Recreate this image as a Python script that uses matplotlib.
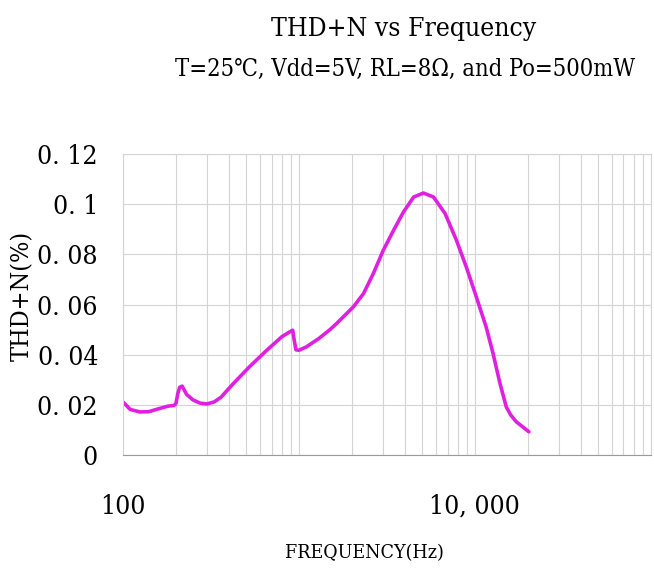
import matplotlib.pyplot as plt
from matplotlib.ticker import FixedLocator, LogLocator, NullFormatter

# THD+N curve
freq_hz = [100, 110, 125, 140, 160, 180, 195, 200, 205, 210,
           217, 230, 250, 275, 300, 330, 360, 420, 520, 650,
           800, 880, 922, 940, 962, 1000, 1100, 1300, 1500, 1640,
           2040, 2330, 2650, 3020, 3450, 3930, 4490, 5110, 5830, 6780,
           7860, 8950, 10200, 11600, 12700, 13900, 15100, 16000, 17200, 20300]
thd_pct = [0.0212, 0.0182, 0.0172, 0.0173, 0.0185, 0.0195, 0.0198, 0.0205, 0.0245, 0.0270,
           0.0275, 0.0242, 0.0220, 0.0207, 0.0204, 0.0212, 0.0230, 0.0282, 0.0350, 0.0415,
           0.0472, 0.0490, 0.0498, 0.0460, 0.0420, 0.0418, 0.0431, 0.0465, 0.0500, 0.0525,
           0.0591, 0.0644, 0.0724, 0.0817, 0.0896, 0.0969, 0.1029, 0.1045, 0.1029, 0.0963,
           0.0857, 0.0750, 0.0631, 0.0511, 0.0405, 0.0286, 0.0192, 0.0160, 0.0133, 0.0093]

y_ticks = [0, 0.02, 0.04, 0.06, 0.08, 0.1, 0.12]
y_labels = ["0", "0. 02", "0. 04", "0. 06", "0. 08", "0. 1", "0. 12"]
x_ticks = [100, 10000]
x_labels = ["100", "10, 000"]

FONT = ["DejaVu Serif", "Liberation Serif", "Noto Sans CJK SC"]
plt.rcParams["font.family"] = FONT
plt.rcParams["font.stretch"] = "condensed"

fig = plt.figure(figsize=(6.54, 5.71), dpi=100)
ax = fig.add_axes([0.188, 0.203, 0.807, 0.527])

ax.plot(freq_hz, thd_pct, color="#e020e0", linewidth=2.6, solid_capstyle="round")

ax.set_xscale("log")
ax.set_xlim(100, 100000)
ax.set_ylim(0, 0.12)
ax.xaxis.set_major_locator(FixedLocator(x_ticks))
ax.xaxis.set_minor_locator(LogLocator(base=10, subs=range(1, 10), numticks=20))
ax.xaxis.set_minor_formatter(NullFormatter())
ax.set_xticks(x_ticks, x_labels)
ax.set_yticks(y_ticks, y_labels)

ax.grid(which="both", axis="x", color="#d4d4d4", linewidth=0.8)
ax.grid(which="major", axis="y", color="#d4d4d4", linewidth=0.8)
ax.tick_params(axis="both", which="both", length=0)
ax.tick_params(axis="y", labelsize=19, pad=18)
ax.tick_params(axis="x", labelsize=19, pad=28)
for side in ["top", "right", "left"]:
    ax.spines[side].set_color("#d4d4d4")
ax.spines["bottom"].set_color("#9a9a9a")

fig.text(0.035, 0.482, "THD+N(%)", rotation=90, ha="center", va="center", fontsize=18)
fig.text(0.558, 0.032, "FREQUENCY(Hz)", ha="center", va="center", fontsize=14)
fig.text(0.617, 0.950, "THD+N vs Frequency", ha="center", va="center", fontsize=19)
fig.text(0.620, 0.878, "T=25\u2103, Vdd=5V, RL=8\u03a9, and Po=500mW",
         ha="center", va="center", fontsize=17)

fig.savefig("out.png", dpi=100)
